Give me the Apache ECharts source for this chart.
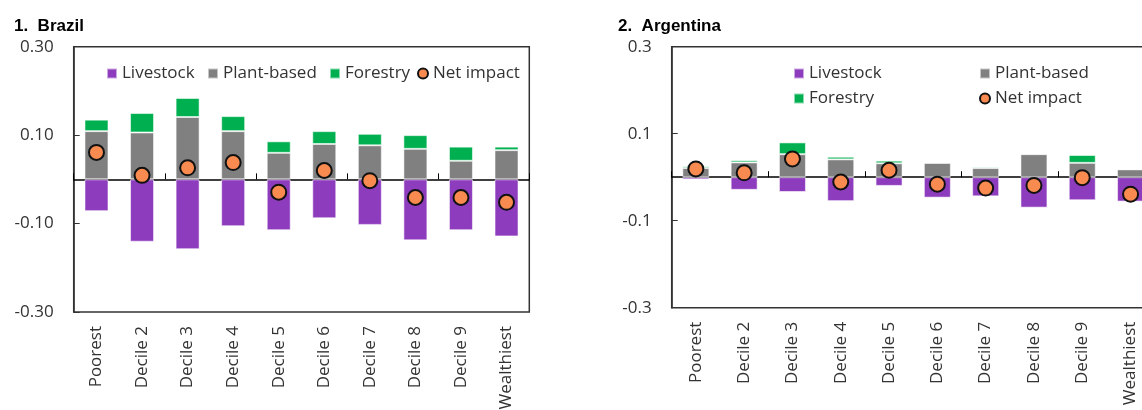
<!DOCTYPE html>
<html>
<head>
<meta charset="utf-8">
<script src="https://cdn.jsdelivr.net/npm/echarts@6/dist/echarts.min.js"></script>
<style>
  html, body { margin: 0; padding: 0; background: #fff; overflow: hidden; }
  #chart { width: 1142px; height: 410px; }
</style>
</head>
<body>
<div id="chart"></div>
<script>
// Income groups on the horizontal axis
const categories = ['Poorest', 'Decile 2', 'Decile 3', 'Decile 4', 'Decile 5',
                    'Decile 6', 'Decile 7', 'Decile 8', 'Decile 9', 'Wealthiest'];

// Brazil: contributions by sector and the net impact
const brazilLivestock = [-0.072, -0.141, -0.158, -0.106, -0.115, -0.088, -0.103, -0.138, -0.115, -0.129];
const brazilPlant     = [0.109, 0.106, 0.141, 0.109, 0.060, 0.080, 0.077, 0.069, 0.042, 0.066];
const brazilForestry  = [0.026, 0.044, 0.043, 0.034, 0.026, 0.029, 0.026, 0.031, 0.032, 0.008];
const brazilNet       = [0.061, 0.009, 0.026, 0.038, -0.029, 0.020, -0.003, -0.041, -0.041, -0.052];

// Argentina: contributions by sector and the net impact
const argLivestock = [-0.005, -0.029, -0.034, -0.055, -0.020, -0.047, -0.044, -0.070, -0.053, -0.056];
const argPlant     = [0.021, 0.034, 0.053, 0.041, 0.032, 0.033, 0.021, 0.053, 0.033, 0.018];
const argForestry  = [0.004, 0.005, 0.027, 0.006, 0.006, 0.000, 0.003, 0.001, 0.018, 0.000];
const argNet       = [0.019, 0.010, 0.042, -0.011, 0.016, -0.016, -0.025, -0.019, -0.001, -0.039];

// Value-axis tick positions
const yTicks = [-0.3, -0.1, 0.1, 0.3];

const COLORS = {
  Livestock: '#8E3CBE',
  'Plant-based': '#808080',
  Forestry: '#00B050',
  'Net impact': '#F98B50'
};
const TEXT = '#333333';
const FONT = '"Open Sans", "Noto Sans", sans-serif';

const chart = echarts.init(document.getElementById('chart'), null, { renderer: 'canvas' });

// Fixed plot rectangles; the Argentina panel is allowed to run past the right edge
function grid(left, top, width, height) {
  return {
    left: left, top: top, width: width, height: height,
    outerBoundsMode: 'none', containLabel: false,
    show: true, borderColor: '#333', borderWidth: 1.5, backgroundColor: 'transparent'
  };
}

// Each panel gets a label axis along the bottom edge and a second axis drawn on the zero line
function xAxes(gridIndex) {
  return [
    {
      type: 'category', gridIndex: gridIndex, data: categories, position: 'bottom',
      axisLine: { show: false, onZero: false },
      axisTick: { show: false },
      axisLabel: { rotate: 90, margin: 14, fontSize: 17, color: TEXT, fontFamily: FONT }
    },
    {
      type: 'category', gridIndex: gridIndex, data: categories, position: 'top',
      axisLine: { show: true, onZero: true, lineStyle: { color: '#000', width: 1.5 } },
      axisTick: { show: true, inside: false, length: 6, lineStyle: { color: '#000', width: 1 } },
      axisLabel: { show: false }
    }
  ];
}

function yAxis(gridIndex, digits) {
  return {
    type: 'value', gridIndex: gridIndex, min: -0.3, max: 0.3,
    splitLine: { show: false },
    axisLine: { show: true, lineStyle: { color: '#333', width: 1.5 } },
    axisTick: { show: true, inside: true, length: 6, customValues: yTicks,
                lineStyle: { color: '#333', width: 1 } },
    axisLabel: {
      customValues: yTicks, margin: 20, fontSize: 17, color: TEXT, fontFamily: FONT,
      formatter: v => v.toFixed(digits)
    }
  };
}

function barSeries(name, data, xi, yi, width) {
  return {
    name: name, type: 'bar', stack: 'total' + yi, data: data,
    xAxisIndex: xi, yAxisIndex: yi, barWidth: width,
    itemStyle: { color: COLORS[name], borderColor: 'rgba(255,255,255,0.55)', borderWidth: 1 },
    emphasis: { disabled: true }, z: 2
  };
}

function netSeries(data, xi, yi) {
  return {
    name: 'Net impact', type: 'scatter', data: data,
    xAxisIndex: xi, yAxisIndex: yi, symbol: 'circle', symbolSize: 15,
    itemStyle: { color: COLORS['Net impact'], borderColor: '#111', borderWidth: 2, opacity: 1 },
    emphasis: { disabled: true }, z: 5
  };
}

function legendItem(name, left, top) {
  return {
    data: [{ name: name, icon: name === 'Net impact' ? 'circle' : 'rect' }],
    left: left, top: top, padding: 0,
    itemWidth: 10, itemHeight: 10, itemGap: 0,
    textStyle: { fontSize: 17, color: TEXT, fontFamily: FONT }
  };
}

const option = {
  animation: false,
  backgroundColor: '#ffffff',
  title: [
    { text: '1.  Brazil', left: 9, top: 13,
      textStyle: { fontSize: 17, fontWeight: 'bold', color: '#000', fontFamily: '"Liberation Sans", Arial, sans-serif' } },
    { text: '2.  Argentina', left: 613, top: 13,
      textStyle: { fontSize: 17, fontWeight: 'bold', color: '#000', fontFamily: '"Liberation Sans", Arial, sans-serif' } }
  ],
  legend: [
    legendItem('Livestock', 106, 65),
    legendItem('Plant-based', 207, 65),
    legendItem('Forestry', 329, 65),
    legendItem('Net impact', 417, 65),
    legendItem('Livestock', 793, 65),
    legendItem('Plant-based', 979, 65),
    legendItem('Forestry', 793, 90),
    legendItem('Net impact', 979, 90)
  ],
  grid: [
    grid(73.7, 46.7, 455.6, 265.3),
    grid(671.7, 46.7, 483, 261)
  ],
  xAxis: [...xAxes(0), ...xAxes(1)],
  yAxis: [yAxis(0, 2), yAxis(1, 1)],
  series: [
    barSeries('Livestock', brazilLivestock, 0, 0, 24),
    barSeries('Plant-based', brazilPlant, 0, 0, 24),
    barSeries('Forestry', brazilForestry, 0, 0, 24),
    netSeries(brazilNet, 0, 0),
    barSeries('Livestock', argLivestock, 2, 1, 27),
    barSeries('Plant-based', argPlant, 2, 1, 27),
    barSeries('Forestry', argForestry, 2, 1, 27),
    netSeries(argNet, 2, 1)
  ]
};

chart.setOption(option);
</script>
</body>
</html>
